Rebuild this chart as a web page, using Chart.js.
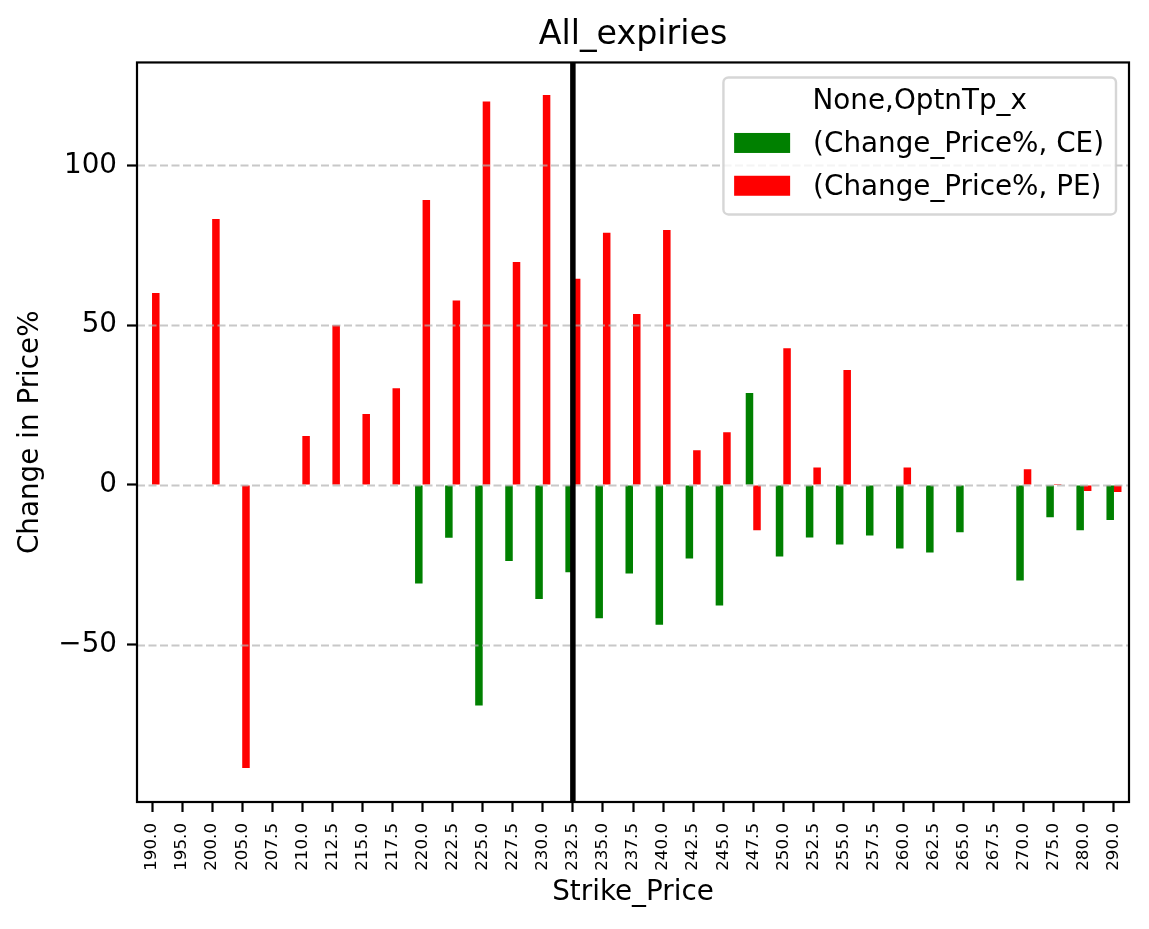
<!DOCTYPE html>
<html>
<head>
<meta charset="utf-8">
<script src="https://cdn.jsdelivr.net/npm/chart.js@4.4.1/dist/chart.umd.min.js"></script>
<style>
  html, body { margin: 0; padding: 0; background: #fff; }
  #wrap { width: 1149px; height: 929px; }
</style>
</head>
<body>
<div id="wrap"><canvas id="chart" width="1149" height="929"></canvas></div>
<script>
// DATA
const strikes = ['190.0', '195.0', '200.0', '205.0', '207.5', '210.0', '212.5', '215.0', '217.5',
  '220.0', '222.5', '225.0', '227.5', '230.0', '232.5', '235.0', '237.5', '240.0', '242.5',
  '245.0', '247.5', '250.0', '252.5', '255.0', '257.5', '260.0', '262.5', '265.0', '267.5',
  '270.0', '275.0', '280.0', '290.0']

const ceChange = [null, null, null, null, null, null, null, null, null,
  -30.8, -16.5, -69.0, -23.8, -35.7, -27.3, -41.7, -27.7, -43.7, -23.0,
  -37.7, 28.8, -22.4, -16.4, -18.6, -15.8, -19.9, -21.1, -14.8, null,
  -29.9, -10.1, -14.2, -11.0]

const peChange = [60.1, null, 83.2, -88.6, null, 15.3, 50.0, 22.2, 30.3,
  89.2, 57.7, 120.0, 69.8, 122.0, 64.5, 78.9, 53.5, 79.8, 10.9,
  16.5, -14.2, 42.8, 5.5, 36.0, null, 5.5, null, null, null,
  4.9, 0.3, -1.9, -2.2]

const yTicks = [-50, 0, 50, 100]
const spotStrike = '232.5'
const legendTitle = 'None,OptnTp_x'

const FONT = "'DejaVu Sans', sans-serif"
const PT10 = 27.8

// grid, spot line, frame and legend are drawn on top of the bars
const overlay = {
  id: 'overlay',
  afterDatasetsDraw(chart) {
    const { ctx, chartArea: a, scales: { x, y } } = chart
    ctx.save()

    // dashed grid
    ctx.strokeStyle = 'rgba(176,176,176,0.7)'
    ctx.lineWidth = 2.2
    ctx.setLineDash([8, 3.5])
    y.ticks.forEach(t => {
      const py = Math.round(y.getPixelForValue(t.value)) + 0.5
      ctx.beginPath()
      ctx.moveTo(a.left, py)
      ctx.lineTo(a.right, py)
      ctx.stroke()
    })
    ctx.setLineDash([])

    // spot strike line
    const px = x.getPixelForValue(strikes.indexOf(spotStrike))
    ctx.strokeStyle = '#000'
    ctx.lineWidth = 5.5
    ctx.beginPath()
    ctx.moveTo(px, a.top)
    ctx.lineTo(px, a.bottom)
    ctx.stroke()

    // frame
    ctx.lineWidth = 2.2
    ctx.strokeRect(a.left, a.top, a.right - a.left, a.bottom - a.top)

    // legend
    ctx.font = PT10 + 'px ' + FONT
    const sets = chart.data.datasets
    const textW = Math.max(...sets.map(d => ctx.measureText(d.label).width))
    const padL = 10.7, patchW = 56, patchH = 20, gap = 23, padR = 12
    const w = padL + patchW + gap + textW + padR
    const right = a.right - 13
    const left = right - w
    const top = a.top + 15
    const h = 137
    ctx.beginPath()
    ctx.roundRect(left, top, w, h, 5)
    ctx.fillStyle = 'rgba(255,255,255,0.8)'
    ctx.fill()
    ctx.strokeStyle = 'rgba(204,204,204,0.8)'
    ctx.lineWidth = 2.4
    ctx.stroke()

    ctx.fillStyle = '#000'
    ctx.textBaseline = 'middle'
    ctx.textAlign = 'center'
    ctx.fillText(legendTitle, left + w / 2, top + 24)
    ctx.textAlign = 'left'
    sets.forEach((d, i) => {
      const cy = top + 65.5 + i * 42.8
      ctx.fillStyle = d.backgroundColor
      ctx.fillRect(left + padL, cy - patchH / 2, patchW, patchH)
      ctx.fillStyle = '#000'
      ctx.fillText(d.label, left + padL + patchW + gap, cy + 2)
    })

    ctx.restore()
  }
}

new Chart(document.getElementById('chart'), {
  type: 'bar',
  data: {
    labels: strikes,
    datasets: [
      { label: '(Change_Price%, CE)', data: ceChange, backgroundColor: '#008000', borderWidth: 0 },
      { label: '(Change_Price%, PE)', data: peChange, backgroundColor: '#ff0000', borderWidth: 0 }
    ]
  },
  options: {
    responsive: false,
    devicePixelRatio: 1,
    animation: false,
    categoryPercentage: 0.5,
    barPercentage: 1.0,
    layout: { padding: { left: 0, right: 20, top: 0, bottom: 0 } },
    plugins: {
      legend: { display: false },
      tooltip: { enabled: false },
      title: {
        display: true,
        fullSize: false,
        text: 'All_expiries',
        color: '#000',
        font: { family: FONT, size: 33.3, weight: 'normal' },
        padding: { top: 15.5, bottom: 7 }
      }
    },
    scales: {
      x: {
        offset: true,
        afterFit: (scale) => { scale.height = 127 },
        grid: {
          display: true, drawOnChartArea: false, drawTicks: true, offset: false,
          tickLength: 10, tickColor: '#000', tickWidth: 2.2
        },
        border: { display: false },
        ticks: {
          autoSkip: false, maxRotation: 90, minRotation: 90,
          color: '#000', padding: 11,
          font: { family: FONT, size: 16.7 }
        },
        title: {
          display: true, text: 'Strike_Price', color: '#000',
          font: { family: FONT, size: PT10 },
          padding: { top: 0, bottom: 19.3 }
        }
      },
      y: {
        min: -99.2,
        max: 132.2,
        afterFit: (scale) => { scale.width = 137 },
        afterBuildTicks: (scale) => { scale.ticks = yTicks.map(v => ({ value: v })) },
        grid: {
          display: true, drawOnChartArea: false, drawTicks: true,
          tickLength: 10, tickColor: '#000', tickWidth: 2.2
        },
        border: { display: false },
        ticks: {
          color: '#000', padding: 10,
          font: { family: FONT, size: PT10 },
          callback: (v) => String(v).replace('-', '\u2212')
        },
        title: {
          display: true, text: 'Change in Price%', color: '#000',
          font: { family: FONT, size: PT10 },
          padding: { top: 14.3, bottom: 0 }
        }
      }
    }
  },
  plugins: [overlay]
})
</script>
</body>
</html>
